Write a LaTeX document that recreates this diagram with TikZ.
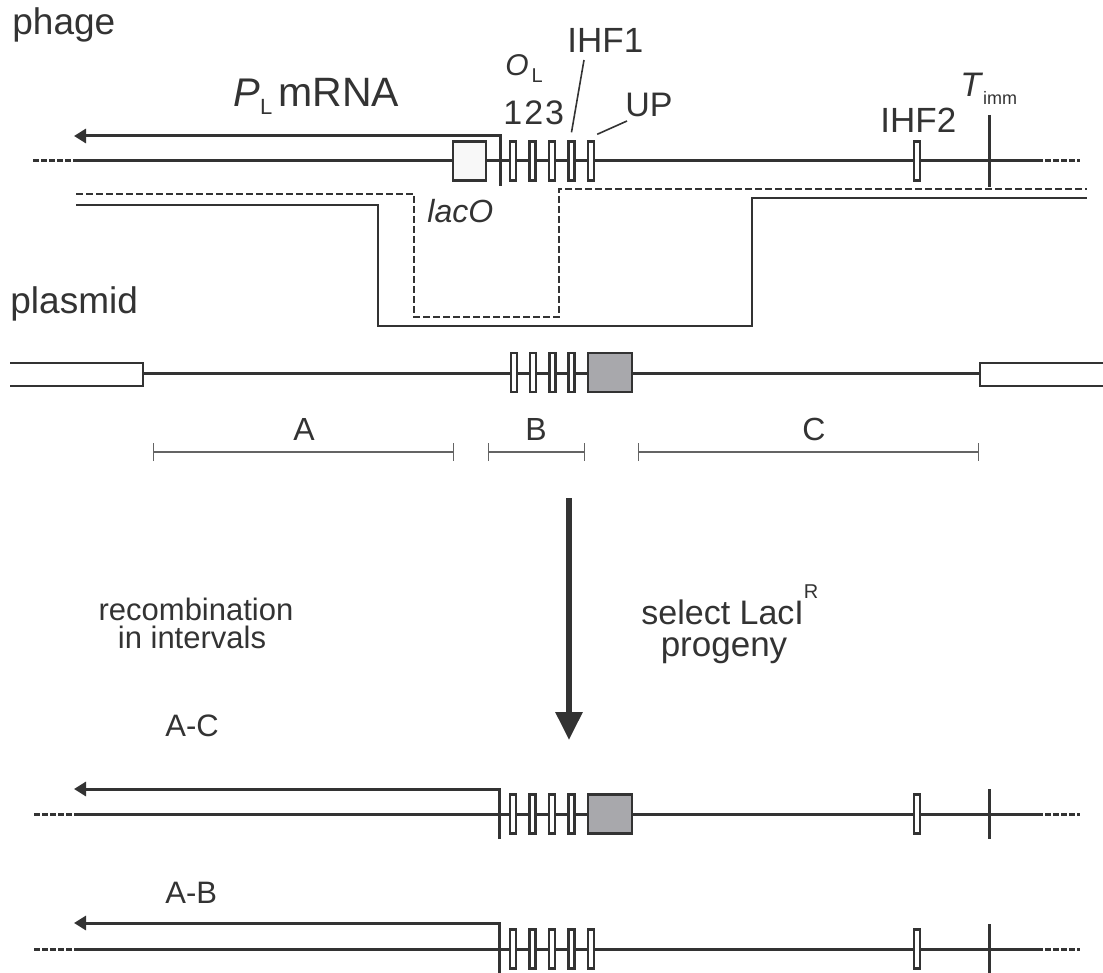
\documentclass[tikz,border=0pt]{standalone}
\usepackage{fontspec}
\setmainfont{Liberation Sans}
\usetikzlibrary{arrows.meta}

\definecolor{dna}{RGB}{51,51,51}
\definecolor{lacgray}{RGB}{168,168,172}
\definecolor{laclight}{RGB}{248,248,248}
\definecolor{barline}{RGB}{100,100,100}

\newcommand{\fsz}[1]{\fontsize{#1}{#1}\selectfont}

\begin{document}
\begin{tikzpicture}[x=0.5pt,y=-0.5pt,
  strand/.style={draw=dna,line width=1.5pt},
  strandend/.style={draw=dna,line width=1.5pt,dash pattern=on 3pt off 1pt},
  recpath/.style={draw=dna,line width=1.2pt,dash pattern=on 3.5pt off 1.5pt},
  plpath/.style={draw=dna,line width=1.2pt},
  opbox/.style={draw=dna,line width=1.2pt,fill=white,inner sep=0pt,minimum width=3pt,minimum height=19.5pt},
  lacbox/.style={draw=dna,line width=1.3pt,fill=lacgray,inner sep=0pt,minimum width=22pt,minimum height=19.5pt},
  txt/.style={inner sep=0pt,text=dna},
  mrna/.style={draw=dna,line width=1.5pt,line join=miter,-{Triangle[length=6pt,width=7pt]}},
  interval/.style={draw=barline,line width=0.7pt,{Bar[width=9pt]}-{Bar[width=9pt]}},
  leader/.style={draw=dna,line width=0.8pt},
]

\useasboundingbox (0,0) rectangle (1103,973);

% Labels
\node[txt,anchor=base west] (phage) at (12,35) {\fsz{18.5}phage};
\node[txt,anchor=base west] (plasmid) at (10,314) {\fsz{18.5}plasmid};

% Phage
\draw[strandend] (33,161) -- (74,161);
\draw[strandend] (1037,161) -- (1080,161);
\draw[strand] (74,161) -- (1037,161);
\coordinate (phstart) at (500,186);
\coordinate (phtip) at (74,136);
\draw[mrna] (phstart) |- (phtip);
\node[opbox,fill=laclight,minimum width=16.5pt] (phlac) at (469.5,161) {};
\foreach \i/\x in {1/513,2/532.5,3/552,4/571.5,5/591}
  \node[opbox] (ph\i) at (\x,161) {};
\node[opbox] (phihf) at (917,161) {};
\draw[strand,line width=1.3pt] (989.5,115) -- (989.5,187);

\node[txt,anchor=base west] (plmrna) at (233,107)
  {\fsz{20}\textit{P}\raisebox{-4pt}{\fsz{11}L}\hspace{3pt}\fsz{20.5}mRNA};
\node[txt,anchor=base west] (olabel) at (505,76)
  {\fsz{15}\textit{O}\hspace{1.5pt}\raisebox{-3.5pt}{\fsz{10}L}};
\node[txt,anchor=base west] (opnums) at (503,125) {\fsz{17}1\hspace{1pt}2\hspace{1pt}3};
\node[txt,anchor=base west] (ihfone) at (567,53) {\fsz{17.5}IHF1};
\node[txt,anchor=base west] (uplabel) at (625,117) {\fsz{17}UP};
\node[txt,anchor=base west] (ihftwo) at (880,133) {\fsz{17.5}IHF2};
\node[txt,anchor=base west] (timm) at (960,97)
  {\fsz{17}\textit{T}\raisebox{-4pt}{\fsz{9}imm}};
\node[txt,anchor=base west] (lacolabel) at (427,223) {\fsz{16}\textit{lacO}};

% Leader lines
\coordinate (ihfend) at (584,60);
\coordinate (upend) at (627,121);
\draw[leader] (ihfend) -- ([yshift=4pt]ph4.north);
\draw[leader] (upend) -- ([shift={(1pt,3pt)}]ph5.north east);

% Crossover paths
\draw[recpath] (76,194) -- (414,194) -- (414,317) -- (559,317) -- (559,189) -- (1087,189);
\draw[plpath] (76,205) -- (378,205) -- (378,326) -- (752,326) -- (752,198) -- (1087,198);

% Plasmid
\draw[strand] (143,373) -- (980,373);
\draw[plpath,line width=1.3pt] (10,363) -- (143,363) -- (143,386) -- (10,386);
\draw[plpath,line width=1.3pt] (1103,363) -- (980,363) -- (980,386) -- (1103,386);
\foreach \i/\x in {1/514,2/533,3/552.5,4/571.5}
  \node[opbox] (pl\i) at (\x,372.5) {};
\node[lacbox] (pllac) at (610,372.5) {};

% Intervals
\draw[interval] (153,452) -- (454,452);
\draw[interval] (488,452) -- (585,452);
\draw[interval] (638,452) -- (979,452);
\node[txt,anchor=base] (ivA) at (304,440) {\fsz{16}A};
\node[txt,anchor=base] (ivB) at (536,440) {\fsz{16}B};
\node[txt,anchor=base] (ivC) at (814,440) {\fsz{16}C};

% Selection
\coordinate (selstart) at (569,498);
\coordinate (selend) at (569,740);
\draw[draw=dna,line width=3pt,-{Triangle[length=14pt,width=13pt]}] (selstart) -- (selend);
\node[txt,anchor=base] (recomb) at (196,620) {\fsz{15.5}recombination};
\node[txt,anchor=base] (interv) at (192,648) {\fsz{15.5}in intervals};
\node[txt,anchor=base west] (select) at (641,624)
  {\fsz{17}select LacI\raisebox{13pt}{\fsz{10}R}};
\node[txt,anchor=base] (progeny) at (724,656) {\fsz{17.5}progeny};

% A-C recombinant
\node[txt,anchor=base west] (acname) at (165,736) {\fsz{15.5}A-C};
\draw[strandend] (34,814) -- (74,814);
\draw[strandend] (1037,814) -- (1080,814);
\draw[strand] (74,814) -- (1037,814);
\coordinate (acstart) at (499,839);
\coordinate (actip) at (74,789);
\draw[mrna] (acstart) |- (actip);
\foreach \i/\x in {1/513,2/532.5,3/552,4/571.5}
  \node[opbox] (ac\i) at (\x,814) {};
\node[lacbox] (aclac) at (610,814) {};
\node[opbox] (acihf) at (917,814) {};
\draw[strand,line width=1.3pt] (989.5,789) -- (989.5,839);

% A-B recombinant
\node[txt,anchor=base west] (abname) at (165,903) {\fsz{15.5}A-B};
\draw[strandend] (34,949) -- (74,949);
\draw[strandend] (1037,949) -- (1080,949);
\draw[strand] (74,949) -- (1037,949);
\coordinate (abstart) at (499,973);
\coordinate (abtip) at (74,923);
\draw[mrna] (abstart) |- (abtip);
\foreach \i/\x in {1/513,2/532.5,3/552,4/571.5,5/591}
  \node[opbox] (ab\i) at (\x,949) {};
\node[opbox] (abihf) at (917,949) {};
\draw[strand,line width=1.3pt] (989.5,924) -- (989.5,973);

\end{tikzpicture}
\end{document}
